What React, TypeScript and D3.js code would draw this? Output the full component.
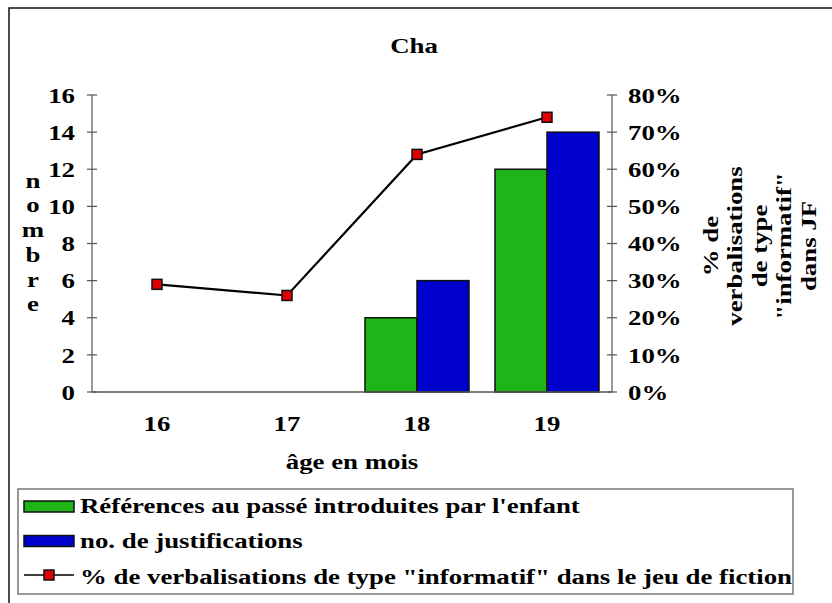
import React from "react";
import * as d3 from "d3";

const categories = ["16", "17", "18", "19"];
const seriesNames = [
  "Références au passé introduites par l'enfant",
  "no. de justifications",
];
const references = [0, 0, 4, 12];
const justifications = [0, 0, 6, 14];
const percentInformatif = [0.29, 0.26, 0.64, 0.74];
const lineName = "% de verbalisations de type \"informatif\" dans le jeu de fiction";
const leftTicks = [0, 2, 4, 6, 8, 10, 12, 14, 16];
const rightTicks = [0, 0.1, 0.2, 0.3, 0.4, 0.5, 0.6, 0.7, 0.8];
const title = "Cha";
const xTitle = "âge en mois";
const leftTitle = "nombre";
const rightTitleLines = ["% de", "verbalisations", "de type", "\"informatif\"", "dans JF"];

const colors = ["#1fb518", "#0000cc"];
const FONT = "'Liberation Serif', 'Times New Roman', serif";
const SX = 1.22;
const FS = 22;

function T(props: { x: number; y: number; anchor?: string; children: React.ReactNode; fs?: number }) {
  const { x, y, anchor = "start", children, fs = FS } = props;
  return (
    <text transform={`translate(${x},${y}) scale(${SX},1)`} dy="0.35em" textAnchor={anchor} fontSize={fs}>
      {children}
    </text>
  );
}

export default function App() {
  const W = 832, H = 603;
  const x0 = 92, x1 = 612, yTop = 95, yBot = 392;
  const x = d3.scaleBand<string>().domain(categories).range([x0, x1]).paddingInner(0.2).paddingOuter(0.1);
  const xs = d3.scaleBand<string>().domain(["a", "b"]).range([0, x.bandwidth()]);
  const yL = d3.scaleLinear().domain([0, 16]).range([yBot, yTop]);
  const yR = d3.scaleLinear().domain([0, 0.8]).range([yBot, yTop]);
  const cx = (c: string) => (x(c) as number) + x.bandwidth() / 2;
  const line = d3.line<number>().x((_, i) => cx(categories[i])).y((d) => yR(d));
  const seriesData = [references, justifications];
  const axisColor = "#555";

  return (
    <svg width={W} height={H} style={{ position: "absolute", left: 0, top: 0, background: "#fff" }} fontFamily={FONT} fontWeight="bold">
      <rect x={0} y={0} width={W} height={H} fill="#fff" />
      <rect x={9} y={8} width={1000} height={800} fill="none" stroke="#111" strokeWidth={1.5} />
      <T x={414} y={45} anchor="middle">{title}</T>

      {/* bars */}
      {categories.map((c, i) =>
        seriesData.map((s, k) =>
          s[i] > 0 ? (
            <rect key={c + k} x={(x(c) as number) + (xs(k === 0 ? "a" : "b") as number)} y={yL(s[i])}
              width={xs.bandwidth()} height={yBot - yL(s[i])} fill={colors[k]} stroke="#111" strokeWidth={1.5} />
          ) : null
        )
      )}

      {/* axes */}
      <line x1={x0} x2={x0} y1={yTop} y2={yBot} stroke={axisColor} strokeWidth={1.2} />
      <line x1={x1} x2={x1} y1={yTop} y2={yBot} stroke={axisColor} strokeWidth={1.2} />
      <line x1={x0} x2={x1} y1={yBot} y2={yBot} stroke={axisColor} strokeWidth={1.5} />
      {leftTicks.map((t) => (
        <g key={"l" + t}>
          <line x1={x0 - 5} x2={x0 + 5} y1={yL(t)} y2={yL(t)} stroke={axisColor} strokeWidth={1.2} />
          <T x={x0 - 17} y={yL(t)} anchor="end">{t}</T>
        </g>
      ))}
      {rightTicks.map((t) => (
        <g key={"r" + t}>
          <line x1={x1 - 5} x2={x1 + 5} y1={yR(t)} y2={yR(t)} stroke={axisColor} strokeWidth={1.2} />
          <T x={x1 + 16} y={yR(t)}>{d3.format(".0%")(t)}</T>
        </g>
      ))}
      {categories.map((c) => (
        <T key={"x" + c} x={cx(c)} y={423} anchor="middle">{c}</T>
      ))}
      <T x={(x0 + x1) / 2} y={461} anchor="middle">{xTitle}</T>
      {leftTitle.split("").map((ch, i) => (
        <T key={"n" + i} x={33} y={180 + i * 24.7} anchor="middle">{ch}</T>
      ))}
      <g transform="translate(759,246) rotate(-90)">
        {rightTitleLines.map((l, i) => (
          <T key={l} x={0} y={(i - 2) * 24.5} anchor="middle">{l}</T>
        ))}
      </g>

      {/* line */}
      <path d={line(percentInformatif) as string} fill="none" stroke="#000" strokeWidth={2.2} />
      {percentInformatif.map((v, i) => (
        <rect key={"m" + i} x={cx(categories[i]) - 5} y={yR(v) - 5} width={10} height={10} fill="#e00000" stroke="#111" strokeWidth={1.5} />
      ))}

      {/* legend */}
      <rect x={18} y={489} width={775} height={105} fill="#fff" stroke="#777" strokeWidth={1.5} />
      {seriesNames.map((n, k) => (
        <g key={n}>
          <rect x={24} y={501 + k * 34.5} width={50} height={11} fill={colors[k]} stroke="#111" strokeWidth={1.5} />
          <T x={80} y={505 + k * 35}>{n}</T>
        </g>
      ))}
      <line x1={24} x2={74} y1={575} y2={575} stroke="#000" strokeWidth={1.5} />
      <rect x={44} y={570} width={10} height={10} fill="#e00000" stroke="#111" strokeWidth={1.5} />
      <T x={80} y={576}>{lineName}</T>
    </svg>
  );
}
